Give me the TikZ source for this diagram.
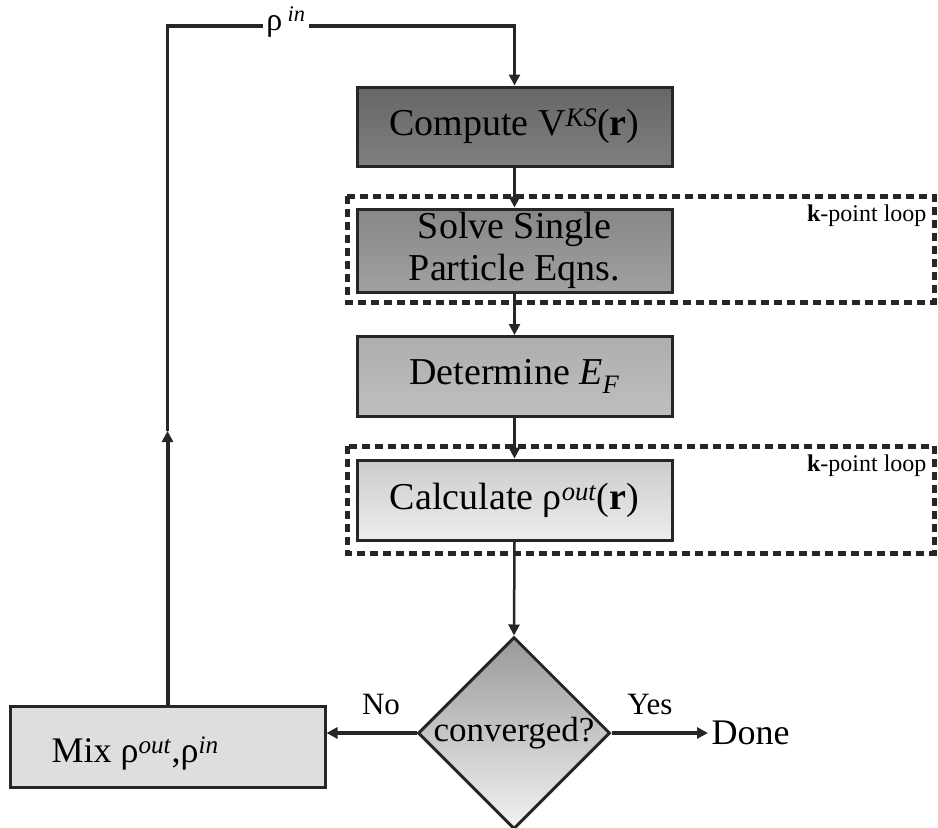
\documentclass[tikz,border=0pt]{standalone}
\usepackage{fontspec}
\setmainfont{Liberation Serif}
\usetikzlibrary{arrows.meta,shapes.geometric}
\begin{document}
\begin{tikzpicture}[x=1pt,y=-1pt,
  every node/.style={font=\fontsize{38}{42}\selectfont},
  procbox/.style={draw=black!85,line width=3pt,minimum width=315pt,minimum height=80pt,inner sep=0pt,align=center},
  loopbox/.style={draw=black!85,line width=5pt,dash pattern=on 8pt off 5pt},
  conn/.style={line width=2.5pt,draw=black!85},
  thick conn/.style={line width=4pt,draw=black!85},
  tip/.style={-{Triangle[length=11pt,width=11pt]}},
  smalltxt/.style={font=\fontsize{24}{26}\selectfont},
  mtxt/.style={font=\fontsize{31}{33}\selectfont}
]
\useasboundingbox (0,0) rectangle (938,828);
% loop boxes
\draw[loopbox] (347,196) rectangle (934,302);
\draw[loopbox] (347,446) rectangle (934,553);
\node[smalltxt,anchor=east] (kl1) at (930,216) {\textbf{k}-point loop};
\node[smalltxt,anchor=east] (kl2) at (930,466) {\textbf{k}-point loop};
% boxes
\node[procbox,top color=black!60,bottom color=black!50,minimum height=79pt] (comp) at (514.5,126.5) {Compute V\textsuperscript{\textit{KS}}(\textbf{r})};
\node[procbox,top color=black!47,bottom color=black!37,minimum height=83pt] (solve) at (514.5,250.5) {Solve Single\\Particle Eqns.};
\node[procbox,top color=black!32,bottom color=black!25,minimum height=80pt] (det) at (514.5,376.5) {Determine \textit{E}\textsubscript{\textit{F}}};
\node[procbox,top color=black!20,bottom color=black!7,minimum height=80pt] (calc) at (514.5,500) {Calculate ρ\textsuperscript{\textit{out}}(\textbf{r})};
\node[diamond,draw=black!85,line width=3pt,aspect=1,minimum width=192pt,minimum height=192pt,inner sep=0pt,top color=black!40,bottom color=black!5] (conv) at (514,733) {};
\node[font=\fontsize{35}{37}\selectfont] (convt) at (514,733) {converged?};
\node[procbox,fill=black!13,minimum height=81pt] (mix) at (167.5,746.5) {};
\node[anchor=west,font=\fontsize{36}{40}\selectfont] (mixt) at (48,753) {Mix ρ\textsuperscript{\textit{out}},ρ\textsuperscript{\textit{in}}};
\node[anchor=west,font=\fontsize{36}{40}\selectfont] (done) at (708,733) {Done};
\node[mtxt] (yes) at (650,704) {Yes};
\node[mtxt] (no) at (381,704) {No};
% connectors
\coordinate (amid) at (167.5,431);
\coordinate (tl) at (167.5,26);
\coordinate (tr) at (514.5,26);
\draw[thick conn,tip] (mix.north) -- (amid);
\draw[line width=3.5pt,draw=black!85,line join=miter,tip] (amid) -- (tl) -- (tr) -- (comp.north);
\node[fill=white,inner sep=3pt,font=\fontsize{32}{34}\selectfont] (rin) at (286,22) {ρ\,\textsuperscript{\textit{in}}};
\draw[conn,tip] (comp.south) -- (solve.north);
\draw[conn,tip] (solve.south) -- (det.north);
\draw[conn,tip] (det.south) -- (calc.north);
\draw[conn,tip] (calc.south) -- (conv.north);
\draw[thick conn,tip] (conv.west) -- (conv.west -| mix.east);
\draw[thick conn,tip] (conv.east) -- (done.west);
\end{tikzpicture}
\end{document}
